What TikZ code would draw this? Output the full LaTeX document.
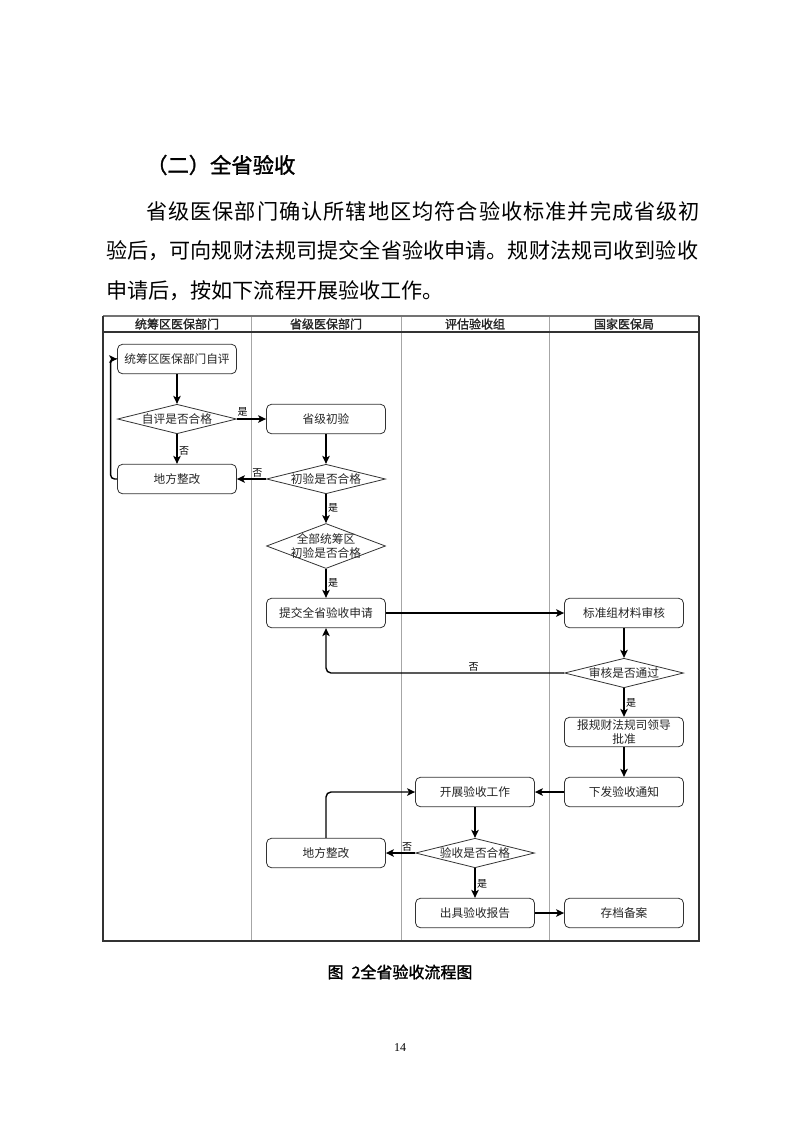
\documentclass[tikz,border=0pt]{standalone}
\usepackage{fontspec}
\setmainfont{Liberation Serif}
\newfontfamily\cjk{Noto Sans CJK SC}
\newfontfamily\cjkb{Noto Sans CJK SC}[FakeBold=1.5]
\usetikzlibrary{arrows.meta,shapes.geometric}
\XeTeXlinebreaklocale "zh"
\XeTeXlinebreakskip=0pt plus 3pt minus 0.5pt
\tikzset{
  box/.style={draw=black!80, line width=0.8pt, rounded corners=5pt,
    minimum width=119pt, minimum height=29.5pt, inner sep=1pt, align=center,
    font=\cjk\fontsize{11.7}{14}\selectfont, text=black!85},
  dia/.style={diamond, draw=black!80, line width=0.8pt, minimum width=119pt,
    minimum height=29.5pt, aspect=4.1, inner xsep=-12pt, inner ysep=-3pt,
    align=center, font=\cjk\fontsize{11.7}{13.5}\selectfont, text=black!85},
  arr/.style={line width=1.4pt, -{Stealth[length=8pt,width=7.5pt,inset=2pt]}},
  lbl/.style={font=\cjk\fontsize{10}{12}\selectfont, inner sep=1.5pt, text=black},
  hdr/.style={font=\cjkb\fontsize{12}{14}\selectfont, text=black!85},
  lane/.style={draw=black!35, line width=1pt},
  frame/.style={draw=black!80, line width=1.2pt},
  body/.style={inner sep=0pt, anchor=west},
}
\begin{document}
\begin{tikzpicture}[x=1pt,y=-1pt]
\useasboundingbox[fill=white] (0,0) rectangle (793,1122);

% heading and paragraph
\node[body, font=\cjkb\fontsize{21.3}{26}\selectfont] (head) at (146,165) {（二）全省验收};
\node[body] (p1) at (146,211) {\parbox{554pt}{\cjk\fontsize{21.2}{26}\selectfont\parfillskip=0pt 省级医保部门确认所辖地区均符合验收标准并完成省级初}};
\node[body] (p2) at (106,251) {\parbox{592pt}{\cjk\fontsize{21.1}{26}\selectfont\parfillskip=0pt 验后，可向规财法规司提交全省验收申请。规财法规司收到验收}};
\node[body, font=\cjk\fontsize{21.1}{26}\selectfont] (p3) at (106,291) {申请后，按如下流程开展验收工作。};

% swimlane frame
\draw[lane] (251,316) -- (251,941);
\draw[lane] (401,316) -- (401,941);
\draw[lane] (549,316) -- (549,941);
\draw[draw=black!55, line width=1.2pt] (103,316) -- (699,316);
\draw[frame] (103,332) -- (699,332);
\draw[frame] (103,316) -- (103,941) -- (699,941) -- (699,316);
\node[hdr] (h1) at (177,324) {统筹区医保部门};
\node[hdr] (h2) at (326,324) {省级医保部门};
\node[hdr] (h3) at (475,324) {评估验收组};
\node[hdr] (h4) at (624,324) {国家医保局};

% nodes
\node[box] (n1) at (177,359) {统筹区医保部门自评};
\node[dia] (d1) at (177,419) {自评是否合格};
\node[box] (n3) at (326,419) {省级初验};
\node[box] (n4) at (177,479) {地方整改};
\node[dia] (d2) at (326,479) {初验是否合格};
\node[dia, minimum height=45pt, aspect=2.64] (d3) at (326,546) {全部统筹区\\初验是否合格};
\node[box] (n7) at (326,613) {提交全省验收申请};
\node[box] (n8) at (624,613) {标准组材料审核};
\node[dia] (d4) at (624,673) {审核是否通过};
\node[box, font=\cjk\fontsize{11.7}{14}\selectfont] (n10) at (624,732) {报规财法规司领导\\批准};
\node[box] (n11) at (624,792) {下发验收通知};
\node[box] (n12) at (475,792) {开展验收工作};
\node[box] (n13) at (326,853) {地方整改};
\node[dia] (d5) at (475,853) {验收是否合格};
\node[box] (n15) at (475,913) {出具验收报告};
\node[box] (n16) at (624,913) {存档备案};

% connectors
\draw[arr] (n1) -- (d1);
\draw[arr] (d1) -- node[lbl, above, pos=0.2] {是} (n3);
\draw[arr] (d1) -- node[lbl, right, pos=0.55] {否} (n4);
\draw[arr, rounded corners=4pt] (n4.west) -- ([xshift=-6.5pt]n4.west) |- (n1.west);
\draw[arr] (n3) -- (d2);
\draw[arr] (d2) -- node[lbl, above, pos=0.3] {否} (n4);
\draw[arr] (d2) -- node[lbl, right, pos=0.48] {是} (d3);
\draw[arr] (d3) -- node[lbl, right, pos=0.5] {是} (n7);
\draw[arr] (n7) -- (n8);
\draw[arr] (n8) -- (d4);
\draw[arr, rounded corners=5pt] (d4.west) -| node[lbl, above, pos=0.19] {否} (n7.south);
\draw[arr] (d4) -- node[lbl, right, pos=0.5] {是} (n10);
\draw[arr] (n10) -- (n11);
\draw[arr] (n11) -- (n12);
\draw[arr] (n12) -- (d5);
\draw[arr] (d5) -- node[lbl, above, pos=0.27] {否} (n13);
\draw[arr, rounded corners=5pt] (n13.north) |- (n12.west);
\draw[arr] (d5) -- node[lbl, right, pos=0.53] {是} (n15);
\draw[arr] (n15) -- (n16);

% caption and page number
\node[font=\cjkb\fontsize{16}{18}\selectfont] (cap) at (400,972) {图\hspace{8pt}2全省验收流程图};
\node[font=\fontsize{12}{14}\selectfont] (pg) at (400,1048) {14};
\end{tikzpicture}
\end{document}
